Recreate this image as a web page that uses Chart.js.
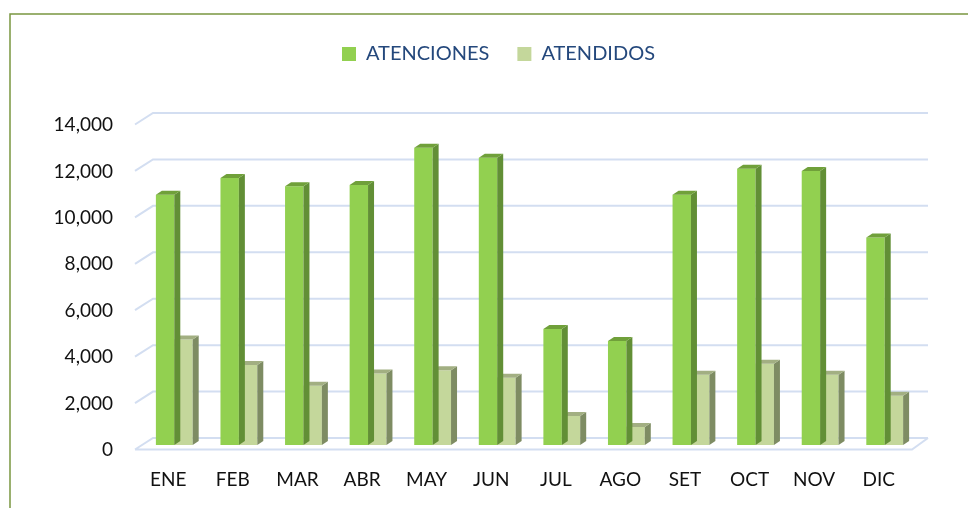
<!DOCTYPE html>
<html>
<head>
<meta charset="utf-8">
<script src="https://cdn.jsdelivr.net/npm/chart.js@4"></script>
<style>
  html, body { margin: 0; padding: 0; background: #fff; }
  #wrap { width: 968px; height: 508px; position: relative; }
</style>
</head>
<body>
<div id="wrap"><canvas id="chart" width="968" height="508"></canvas></div>
<script>
// months and the two series
let months = ["ENE", "FEB", "MAR", "ABR", "MAY", "JUN", "JUL", "AGO", "SET", "OCT", "NOV", "DIC"];
let atenciones = [10780, 11500, 11150, 11200, 12800, 12370, 5000, 4480, 10780, 11900, 11800, 8940];
let atendidos = [4550, 3450, 2550, 3080, 3220, 2900, 1250, 780, 3030, 3500, 3030, 2120];
let yTicks = [0, 2000, 4000, 6000, 8000, 10000, 12000, 14000];

let seriesNames = ["ATENCIONES", "ATENDIDOS"];
let frontColors = ["#92D050", "#C4D79B"];
let sideColors = ["#628F36", "#7E8C63"];
let topColors = ["#70A03A", "#A2AF82"];

const GRID = "#D3DEF1";
const FONT = "Lato";

// frame around the whole chart
const framePlugin = {
    id: "frame",
    beforeDraw(chart) {
        let ctx = chart.ctx;
        ctx.save();
        ctx.fillStyle = "#fff";
        ctx.fillRect(0, 0, chart.width, chart.height);
        ctx.strokeStyle = "#7A9640";
        ctx.lineWidth = 1.5;
        ctx.strokeRect(10, 14, chart.width + 20, chart.height + 20);
        ctx.restore();
    }
};

// walls of the 3d box: back lines, left wall diagonals, floor edge
const wallPlugin = {
    id: "walls",
    beforeDatasetsDraw(chart) {
        let ctx = chart.ctx;
        let y = chart.scales.y;
        let area = chart.chartArea;
        ctx.save();
        ctx.strokeStyle = GRID;
        ctx.lineWidth = 2;
        yTicks.forEach(v => {
            let py = y.getPixelForValue(v);
            ctx.beginPath();
            ctx.moveTo(area.left - 7, py + 4.5);
            ctx.lineTo(area.left + 11, py - 7);
            ctx.lineTo(area.right + 11, py - 7);
            if (v === 0) {
                ctx.moveTo(area.left - 7, py + 4.5);
                ctx.lineTo(area.right - 5, py + 4.5);
                ctx.lineTo(area.right + 11, py - 7);
            }
            ctx.stroke();
        });
        ctx.restore();
    }
};

// side and top faces of every bar
const depthPlugin = {
    id: "depth",
    afterDatasetDraw(chart, args) {
        let ctx = chart.ctx;
        let i = args.index;
        let dx = 6, dy = 4;
        ctx.save();
        args.meta.data.forEach(bar => {
            let p = bar.getProps(["x", "y", "base", "width"], true);
            let l = p.x - p.width / 2;
            let r = p.x + p.width / 2;
            ctx.fillStyle = sideColors[i];
            ctx.beginPath();
            ctx.moveTo(r, p.y);
            ctx.lineTo(r + dx, p.y - dy);
            ctx.lineTo(r + dx, p.base - dy);
            ctx.lineTo(r, p.base);
            ctx.closePath();
            ctx.fill();
            ctx.fillStyle = topColors[i];
            ctx.beginPath();
            ctx.moveTo(l, p.y);
            ctx.lineTo(r, p.y);
            ctx.lineTo(r + dx, p.y - dy);
            ctx.lineTo(l + dx, p.y - dy);
            ctx.closePath();
            ctx.fill();
        });
        ctx.restore();
    }
};

// room between legend and plot, and legend moved right a little
const legendSpace = {
    id: "legendSpace",
    beforeInit(chart) {
        let fit = chart.legend.fit;
        chart.legend.fit = function () {
            fit.call(this);
            this.height += 46;
        };
    },
    afterLayout(chart) {
        chart.legend.left += 35;
        chart.legend.right += 35;
    }
};

new Chart(document.getElementById("chart"), {
    type: "bar",
    data: {
        labels: months,
        datasets: [
            { label: seriesNames[0], data: atenciones, backgroundColor: frontColors[0], borderWidth: 0 },
            { label: seriesNames[1], data: atendidos, backgroundColor: frontColors[1], borderWidth: 0 }
        ]
    },
    options: {
        responsive: false,
        animation: false,
        events: [],
        layout: { padding: { top: 16, left: 10, right: 51, bottom: 0 } },
        datasets: { bar: { categoryPercentage: 0.57, barPercentage: 1 } },
        plugins: {
            tooltip: { enabled: false },
            legend: {
                position: "top",
                labels: {
                    boxWidth: 14,
                    boxHeight: 14,
                    padding: 28,
                    color: "#24487C",
                    font: { family: FONT, size: 20 }
                }
            }
        },
        scales: {
            x: {
                grid: { display: false },
                border: { display: false },
                ticks: {
                    color: "#111",
                    font: { family: FONT, size: 19 },
                    padding: 15,
                    labelOffset: -6,
                    maxRotation: 0
                },
                afterFit(scale) { scale.height = 63; }
            },
            y: {
                min: 0,
                max: 14000,
                grid: { display: false, drawTicks: false },
                border: { display: false },
                afterBuildTicks(scale) { scale.ticks = yTicks.map(v => ({ value: v })); },
                ticks: {
                    color: "#111",
                    font: { family: FONT, size: 19 },
                    padding: 29,
                    labelOffset: 5,
                    callback: v => v.toLocaleString("en-US")
                },
                afterFit(scale) { scale.width = 132; }
            }
        }
    },
    plugins: [framePlugin, wallPlugin, depthPlugin, legendSpace]
});
</script>
</body>
</html>
